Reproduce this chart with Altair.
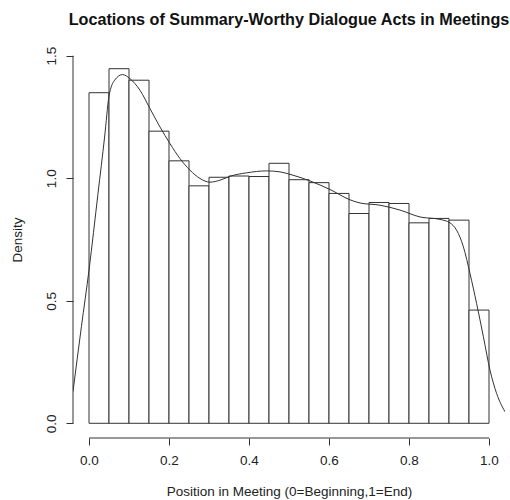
import altair as alt
import pandas as pd

# Histogram bins (left / right edges) and their densities
bin_left = [0.00, 0.05, 0.10, 0.15, 0.20, 0.25, 0.30, 0.35, 0.40, 0.45,
            0.50, 0.55, 0.60, 0.65, 0.70, 0.75, 0.80, 0.85, 0.90, 0.95]
bin_right = [0.05, 0.10, 0.15, 0.20, 0.25, 0.30, 0.35, 0.40, 0.45, 0.50,
             0.55, 0.60, 0.65, 0.70, 0.75, 0.80, 0.85, 0.90, 0.95, 1.00]
bin_density = [1.349, 1.447, 1.400, 1.192, 1.071, 0.969, 1.004, 1.009, 1.007, 1.061,
               0.994, 0.982, 0.938, 0.856, 0.901, 0.897, 0.818, 0.836, 0.829, 0.462]

# Kernel density estimate overlaid on the histogram
kde_x = [-0.040, -0.019, 0.000, 0.0225, 0.039, 0.050, 0.064, 0.084, 0.1025, 0.1275,
         0.1525, 0.1775, 0.2025, 0.2275, 0.2525, 0.2775, 0.3025, 0.3275, 0.3525, 0.394,
         0.444, 0.4775, 0.5025, 0.5525, 0.6025, 0.6525, 0.6775, 0.7275, 0.7775, 0.8275,
         0.8775, 0.9025, 0.919, 0.936, 0.9525, 0.969, 0.986, 1.0025, 1.019, 1.040]
kde_y = [0.13, 0.394, 0.625, 0.938, 1.168, 1.335, 1.400, 1.423, 1.406, 1.359,
         1.284, 1.209, 1.141, 1.080, 1.033, 0.999, 0.984, 0.992, 1.008, 1.022,
         1.030, 1.026, 1.016, 0.989, 0.954, 0.912, 0.899, 0.890, 0.870, 0.842,
         0.832, 0.818, 0.788, 0.720, 0.611, 0.489, 0.353, 0.217, 0.122, 0.047]

x_ticks = [0.0, 0.2, 0.4, 0.6, 0.8, 1.0]
y_ticks = [0.0, 0.5, 1.0, 1.5]

FONT = "Liberation Sans"
INK = "#333333"
TEXT = "#222222"
BASE = 13.5
W, H = 432, 397

bars_df = pd.DataFrame({"left": bin_left, "right": bin_right, "density": bin_density})
kde_df = pd.DataFrame({"x": kde_x, "y": kde_y})

x_scale = alt.Scale(domain=[-0.04, 1.04], nice=False, zero=False)
y_scale = alt.Scale(domain=[-0.06, 1.56], nice=False, zero=False)

x_axis = alt.Axis(
    values=x_ticks, format=".1f", domain=False, grid=False,
    tickSize=7, tickColor=INK, labelFlush=False,
    labelFont=FONT, labelFontSize=BASE, labelColor=TEXT, labelPadding=8,
    title="Position in Meeting (0=Beginning,1=End)",
    titleFont=FONT, titleFontSize=BASE, titleFontWeight="normal", titleColor=TEXT,
    titleX=W / 2, titleY=53, titleBaseline="middle", titleAlign="center",
)
y_axis = alt.Axis(
    values=y_ticks, format=".1f", domain=False, grid=False,
    tickSize=7, tickColor=INK, labelFlush=False,
    labelAngle=270, labelAlign="center", labelBaseline="bottom", labelPadding=8,
    labelFont=FONT, labelFontSize=BASE, labelColor=TEXT,
    title="Density",
    titleFont=FONT, titleFontSize=BASE, titleFontWeight="normal", titleColor=TEXT,
    titleAngle=270, titleX=-56, titleY=H / 2, titleBaseline="middle", titleAlign="center",
)

bars = alt.Chart(bars_df).mark_rect(fill="white", stroke=INK, strokeWidth=1).encode(
    x=alt.X("left:Q", scale=x_scale, axis=x_axis),
    x2="right:Q",
    y=alt.Y("density:Q", scale=y_scale, axis=y_axis),
    y2=alt.datum(0),
)

kde = alt.Chart(kde_df).mark_line(
    color=INK, strokeWidth=1, interpolate="monotone", clip=True
).encode(
    x=alt.X("x:Q", scale=x_scale, axis=x_axis),
    y=alt.Y("y:Q", scale=y_scale, axis=y_axis),
)

# Axis lines span only the tick range, drawn along the plot edges
x_line = alt.Chart(pd.DataFrame({"a": [x_ticks[0]], "b": [x_ticks[-1]]})).mark_rule(
    color=INK, strokeWidth=1
).encode(
    x=alt.X("a:Q", scale=x_scale, axis=x_axis), x2="b:Q", y=alt.value(H)
)
y_line = alt.Chart(pd.DataFrame({"a": [y_ticks[0]], "b": [y_ticks[-1]]})).mark_rule(
    color=INK, strokeWidth=1
).encode(
    y=alt.Y("a:Q", scale=y_scale, axis=y_axis), y2="b:Q", x=alt.value(0)
)

chart = alt.layer(bars, kde, x_line, y_line).properties(
    width=W,
    height=H,
    autosize=alt.AutoSizeParams(type="none"),
    padding={"left": 73, "top": 41, "right": 5, "bottom": 62},
    title=alt.TitleParams(
        "Locations of Summary-Worthy Dialogue Acts in Meetings",
        font=FONT, fontSize=BASE * 1.2, fontWeight="bold", color="#111111",
        anchor="middle", baseline="alphabetic", offset=0,
    ),
    background="white",
).configure_view(strokeWidth=0)

chart.save("out.html", embed_options={"renderer": "svg", "actions": False})
